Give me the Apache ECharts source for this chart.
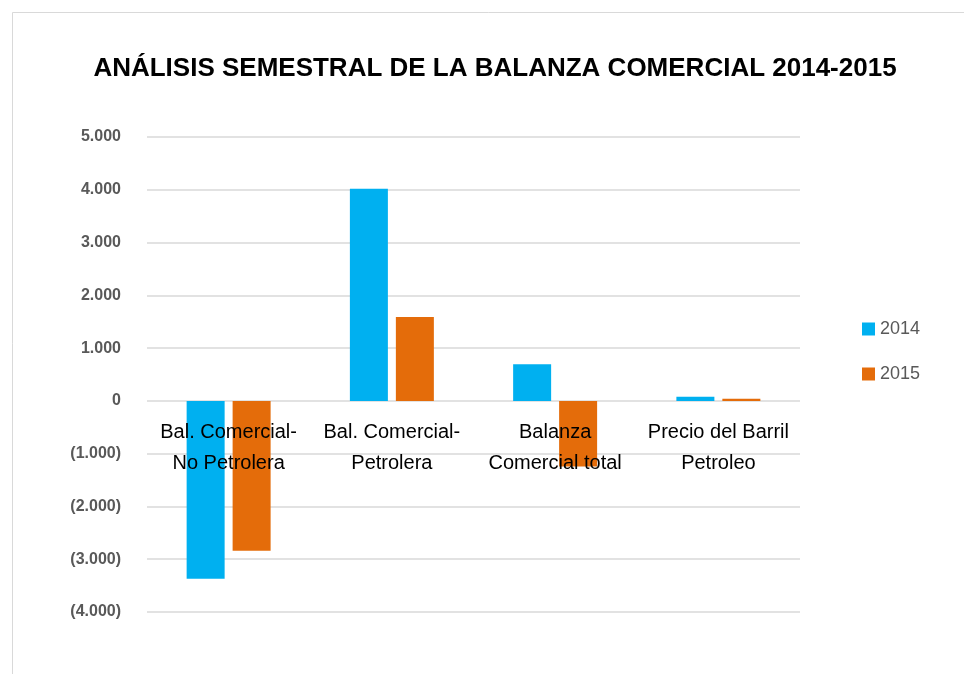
<!DOCTYPE html>
<html>
<head>
<meta charset="utf-8">
<script src="https://cdn.jsdelivr.net/npm/echarts@6/dist/echarts.min.js"></script>
<style>
  html, body { margin: 0; padding: 0; background: #fff; }
  #chart { width: 964px; height: 674px; }
</style>
</head>
<body>
<div id="chart"></div>
<script>
// datos
const categories = [
  'Bal. Comercial-\nNo Petrolera',
  'Bal. Comercial-\nPetrolera',
  'Balanza\nComercial total',
  'Precio del Barril\nPetroleo'
]
const values2014 = [-3370, 4020, 695, 80]
const values2015 = [-2840, 1590, -1245, 40]
const seriesNames = ['2014', '2015']

const font = '"Liberation Sans", Arial, sans-serif'

const fmt = v => {
  const s = Math.abs(v).toFixed(0).replace(/\B(?=(\d{3})+(?!\d))/g, '.')
  return v < 0 ? '(' + s + ')' : s
}

const chart = echarts.init(document.getElementById('chart'))

const option = {
  backgroundColor: '#fff',
  animation: false,
  title: {
    text: 'ANÁLISIS SEMESTRAL DE LA BALANZA COMERCIAL 2014-2015',
    left: 490,
    textAlign: 'center',
    top: 51,
    textStyle: { fontFamily: font, fontSize: 26, fontWeight: 'bold', color: '#000' }
  },
  legend: {
    orient: 'vertical',
    left: 857,
    top: 315,
    itemWidth: 13,
    itemHeight: 13,
    itemGap: 27,
    icon: 'rect',
    data: seriesNames,
    textStyle: { fontFamily: font, fontSize: 18, color: '#595959' }
  },
  graphic: [{
    type: 'rect',
    shape: { x: 12.5, y: 12.5, width: 970, height: 700 },
    style: { fill: 'none', stroke: '#d9d9d9', lineWidth: 1 },
    silent: true
  }],
  grid: { left: 147, right: 164, top: 137, bottom: 62, outerBoundsMode: 'none', containLabel: false },
  xAxis: {
    type: 'category',
    data: categories,
    z: 10,
    axisLine: { show: false },
    axisTick: { show: false },
    axisLabel: {
      interval: 0,
      // etiquetas junto a la linea del cero (eje abajo en 612, cero en 401)
      margin: -195,
      lineHeight: 31,
      fontFamily: font,
      fontSize: 20,
      color: '#000'
    }
  },
  yAxis: {
    type: 'value',
    min: -4000,
    max: 5000,
    interval: 1000,
    axisLine: { show: false },
    axisTick: { show: false },
    splitLine: { lineStyle: { color: '#d9d9d9', width: 1.5 } },
    axisLabel: {
      margin: 26,
      formatter: fmt,
      fontFamily: font,
      fontSize: 16,
      fontWeight: 'bold',
      color: '#595959'
    }
  },
  series: [
    {
      name: seriesNames[0],
      type: 'bar',
      data: values2014,
      barWidth: 38,
      barGap: '21%',
      itemStyle: { color: '#00b0f0' }
    },
    {
      name: seriesNames[1],
      type: 'bar',
      data: values2015,
      barWidth: 38,
      itemStyle: { color: '#e46c0a' }
    }
  ]
}

chart.setOption(option)
</script>
</body>
</html>
